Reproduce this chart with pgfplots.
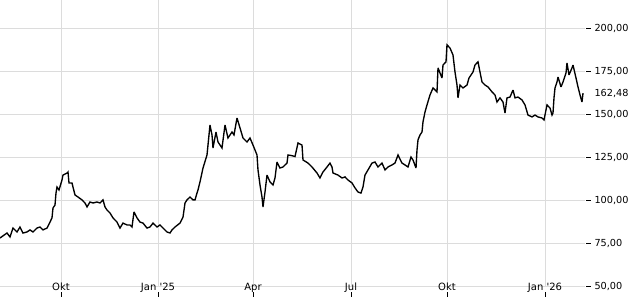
\documentclass[border=0pt]{standalone}
\usepackage{fontspec}
\setmainfont{DejaVu Sans}
\usepackage{pgfplots}
\pgfplotsset{compat=1.18}
\definecolor{gridc}{RGB}{220,220,220}
\begin{document}
\begin{tikzpicture}
\useasboundingbox (0,-14pt) rectangle (640pt,286pt);
\begin{axis}[
  at={(0,0)}, anchor=south west,
  scale only axis, width=585pt, height=286pt,
  xmin=0, xmax=585, ymin=50, ymax=216.8,
  axis line style={draw=none},
  xtick={61,158,253,351,447,545},
  xticklabels={Okt, Jan \textquotesingle25, Apr, Jul, Okt, Jan \textquotesingle26},
  ytick={50,75,...,200},
  extra y ticks={162.48},
  extra y tick style={grid=none, tick style={draw=none}},
  xtick pos=bottom, ytick pos=right, yticklabel pos=right,
  tick align=outside,
  xmajorgrids, ymajorgrids,
  major grid style={gridc, line width=0.8pt},
  x tick style={black, line width=0.7pt, yshift=-6pt},
  y tick style={black, line width=0.7pt, xshift=1pt},
  major tick length=4.5pt,
  xticklabel style={font=\fontsize{10}{12}\selectfont, anchor=base, yshift=0pt},
  yticklabel style={font=\fontsize{9.7}{11}\selectfont, anchor=west, xshift=1.5pt},
  /pgf/number format/.cd, fixed, fixed zerofill, precision=2, use comma, 1000 sep={}, assume math mode=true,
]
\addplot[black, line width=1.35pt, line join=miter, miter limit=3] coordinates {
(0,78.0) (7,80.9) (10,78.6) (13,83.8) (17,81.5) (20,84.4) (23,80.9) (27,81.5) (30,82.7) (33,81.5)
(37,83.8) (40,84.4) (43,82.7) (47,83.8) (50,87.3) (52,89.7) (53,95.5) (55,97.2) (56,104.2) (57,107.7)
(59,106.0) (62,111.8) (63,114.7) (67,115.9) (68,116.5) (69,110.1) (72,110.1) (73,107.7) (75,103.1) (78,101.9)
(82,100.2) (85,98.4) (87,96.1) (90,99.0) (93,98.4) (97,99.0) (100,98.4) (103,100.2) (105,96.1) (107,94.3)
(110,92.6) (113,89.7) (117,87.3) (120,83.8) (123,86.7) (127,85.6) (130,85.6) (132,84.4) (134,93.2) (137,89.7)
(140,87.3) (143,86.7) (147,83.8) (150,84.4) (153,86.7) (157,84.4) (160,85.6) (163,83.8) (167,81.5) (170,80.9)
(172,82.7) (175,84.4) (180,86.7) (183,90.2) (185,98.4) (187,100.2) (190,101.9) (193,100.2) (195,100.2) (197,104.2)
(198,106.0) (200,110.7) (203,118.8) (207,126.4) (210,143.9) (212,138.1) (213,130.5) (216,139.8) (218,134.0) (222,130.5)
(225,143.9) (228,136.3) (232,139.8) (234,138.1) (237,148.0) (240,142.2) (243,136.3) (247,134.0) (250,136.3) (253,132.2)
(257,126.4) (258,117.7) (260,108.9) (262,101.9) (263,96.1) (265,104.8) (267,114.7) (270,110.7) (273,108.9) (275,113.0)
(277,122.3) (280,118.8) (283,119.4) (287,121.7) (288,126.4) (292,126.0) (295,125.5) (298,133.4) (302,132.2) (303,123.5)
(308,121.7) (312,119.4) (317,115.9) (320,113.0) (323,116.5) (327,119.4) (330,121.7) (332,119.4) (333,115.9) (338,114.7)
(342,113.0) (345,113.6) (348,111.8) (352,110.1) (355,107.2) (358,104.8) (361,104.2) (363,107.7) (365,114.7) (368,117.7)
(372,121.7) (375,122.3) (378,119.4) (382,121.7) (385,117.7) (388,119.4) (392,120.6) (395,121.7) (398,126.4) (402,121.7)
(405,120.6) (408,119.4) (411,125.2) (413,123.5) (416,118.8) (417,129.3) (418,135.2) (420,138.1) (422,139.8) (423,145.7)
(425,151.5) (427,155.6) (430,161.4) (433,165.5) (437,163.2) (438,177.2) (442,171.3) (443,178.9) (446,180.7) (447,190.6)
(450,188.8) (453,184.7) (455,174.8) (457,167.2) (458,159.7) (460,167.2) (463,165.5) (467,167.2) (469,171.3) (473,174.8)
(475,178.9) (478,180.7) (480,174.8) (482,169.0) (485,167.2) (488,166.1) (492,163.2) (495,161.4) (497,157.3) (500,159.7)
(503,157.3) (505,150.9) (507,159.7) (510,160.2) (513,164.3) (515,159.7) (518,160.2) (522,158.5) (525,155.6) (528,149.7)
(532,148.6) (535,149.7) (538,148.6) (542,148.0) (544,146.8) (547,155.6) (550,153.8) (552,149.7) (553,150.9) (554,159.7)
(555,165.5) (557,169.0) (558,171.9) (561,166.1) (563,169.0) (566,174.2) (567,180.1) (569,173.1) (572,177.2) (573,178.9)
(576,171.3) (578,166.1) (580,161.4) (582,157.3) (583,162.48)
};
\end{axis}
\end{tikzpicture}
\end{document}
